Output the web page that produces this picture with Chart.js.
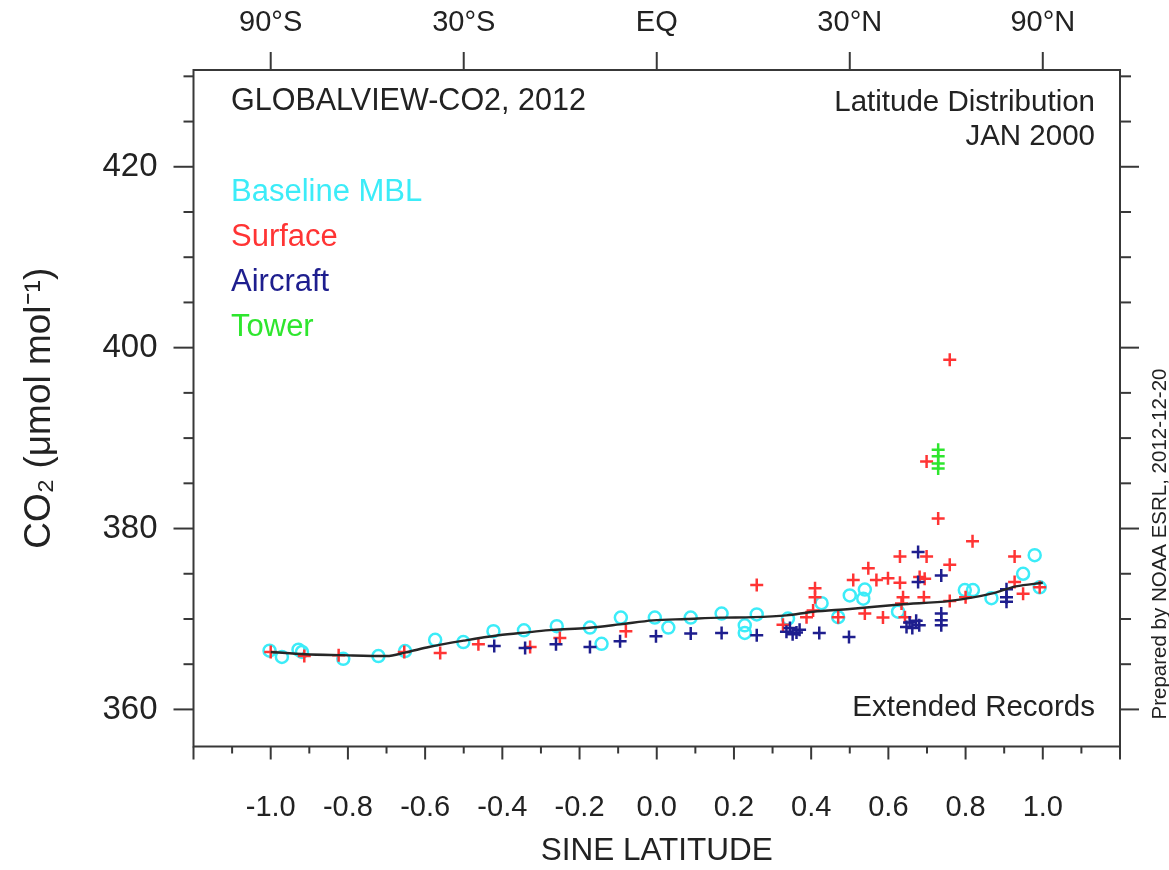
<!DOCTYPE html>
<html>
<head>
<meta charset="utf-8">
<title>GLOBALVIEW-CO2 latitude distribution</title>
<script src="https://cdn.jsdelivr.net/npm/chart.js@4.4.1/dist/chart.umd.min.js"></script>
<style>
  html, body { margin: 0; padding: 0; background: #fff; }
  #wrap { width: 1169px; height: 870px; }
</style>
</head>
<body>
<div id="wrap"><canvas id="co2Chart" width="1169" height="870"></canvas></div>
<script>
// sine of latitude / CO2 (umol/mol)
const mblLat = [-1.003, -0.971, -0.928, -0.919, -0.812, -0.721, -0.652, -0.574, -0.501, -0.423,
                -0.344, -0.259, -0.173, -0.143, -0.093, -0.005, 0.03, 0.088, 0.168, 0.228,
                0.228, 0.259, 0.34, 0.427, 0.47, 0.5, 0.535, 0.539, 0.625, 0.798,
                0.819, 0.867, 0.949, 0.979, 0.992];
const mblCo2 = [366.5, 365.8, 366.6, 366.35, 365.6, 365.9, 366.45, 367.7, 367.45, 368.65,
                368.75, 369.2, 369.05, 367.25, 370.15, 370.15, 369.05, 370.15, 370.6, 369.3,
                368.45, 370.5, 370.05, 371.75, 370.2, 372.6, 372.25, 373.25, 370.8, 373.2,
                373.2, 372.3, 375.0, 377.05, 373.5];

const surfLat = [-1.0, -0.913, -0.824, -0.654, -0.561, -0.462, -0.328, -0.251, -0.08, 0.259,
                 0.327, 0.388, 0.405, 0.41, 0.41, 0.47, 0.509, 0.539, 0.548, 0.569,
                 0.586, 0.599, 0.63, 0.63, 0.634, 0.638, 0.643, 0.681, 0.692, 0.694,
                 0.699, 0.699, 0.729, 0.759, 0.759, 0.759, 0.8, 0.818, 0.927, 0.927,
                 0.949, 0.992];
const surfCo2 = [366.35, 365.9, 366.0, 366.35, 366.25, 367.2, 366.9, 367.9, 368.65, 373.75,
                 369.35, 370.2, 370.95, 373.4, 372.4, 370.2, 374.3, 370.6, 375.6, 374.3,
                 370.15, 374.5, 376.9, 374.0, 371.7, 372.4, 370.2, 374.65, 372.4, 374.45,
                 376.9, 387.4, 381.1, 398.65, 376.0, 372.0, 372.4, 378.6, 376.9, 374.1,
                 372.8, 373.5];

const airLat = [-0.421, -0.341, -0.261, -0.173, -0.095, -0.002, 0.088, 0.168, 0.259, 0.336,
                0.345, 0.352, 0.362, 0.37, 0.421, 0.498, 0.647, 0.655, 0.662, 0.672,
                0.68, 0.677, 0.677, 0.737, 0.737, 0.737, 0.737, 0.906, 0.906, 0.906];
const airCo2 = [367.0, 366.8, 367.2, 366.9, 367.55, 368.1, 368.4, 368.45, 368.2, 368.6,
                369.0, 368.3, 368.5, 368.8, 368.45, 368.0, 369.1, 369.6, 369.0, 369.8,
                369.3, 377.4, 374.1, 374.8, 370.6, 369.85, 369.3, 373.3, 372.4, 371.9];

const towerLat = [0.729, 0.729, 0.729, 0.729];
const towerCo2 = [388.7, 388.0, 387.2, 386.65];

// smoothed MBL reference curve
const curveLat = [-1.0, -0.91, -0.82, -0.7, -0.65, -0.59, -0.5, -0.41, -0.33, -0.27,
                  -0.18, -0.095, -0.01, 0.077, 0.164, 0.25, 0.336, 0.405, 0.5, 0.63,
                  0.76, 0.867, 0.93, 1.0];
const curveCo2 = [366.35, 366.1, 366.0, 365.9, 366.3, 366.9, 367.6, 368.2, 368.55, 368.8,
                  369.0, 369.4, 369.85, 370.0, 370.15, 370.2, 370.4, 370.8, 371.1, 371.6,
                  372.0, 372.8, 373.6, 374.0];

// axis ticks
const sineTicks = [-1.2, -1.0, -0.8, -0.6, -0.4, -0.2, 0.0, 0.2, 0.4, 0.6, 0.8, 1.0, 1.2];
const latValues = [-1, -0.5, 0, 0.5, 1];
const latLabels = ['90°S', '30°S', 'EQ', '30°N', '90°N'];
const co2Ticks = [360, 380, 400, 420];

const legendNames = ['Baseline MBL', 'Surface', 'Aircraft', 'Tower'];
const legendColors = ['#3cecf8', '#ff3434', '#1e1e8e', '#2ee62e'];

const FONT = "'Liberation Sans', Arial, Helvetica, sans-serif";
Chart.defaults.font.family = FONT;
Chart.defaults.color = '#222';

const toPoints = (xs, ys) => xs.map((x, i) => ({ x: x, y: ys[i] }));

// frame, tick marks and the text inside the plot
const framePlugin = {
    id: 'frame',
    afterDraw(chart) {
        const { ctx, chartArea: a, scales } = chart;
        const line = (x1, y1, x2, y2) => {
            ctx.beginPath();
            ctx.moveTo(x1, y1);
            ctx.lineTo(x2, y2);
            ctx.stroke();
        };
        ctx.save();
        ctx.strokeStyle = '#383838';
        ctx.lineWidth = 2;
        ctx.strokeRect(a.left, a.top, a.right - a.left, a.bottom - a.top);

        // bottom: major every 0.2, minor every 0.1
        for (let i = -12; i <= 12; i++) {
            const x = scales.x.getPixelForValue(i / 10);
            line(x, a.bottom, x, a.bottom + (i % 2 === 0 ? 13 : 7));
        }
        // top: latitude ticks
        latValues.forEach(v => {
            const x = scales.xTop.getPixelForValue(v);
            line(x, a.top, x, a.top - 18);
        });
        // left / right: major every 20, minor every 5
        for (let v = 360; v <= 430; v += 5) {
            const y = scales.y.getPixelForValue(v);
            const major = co2Ticks.includes(v);
            line(a.left, y, a.left - (major ? 20 : 10), y);
            line(a.right, y, a.right + (major ? 19 : 11), y);
        }

        ctx.textBaseline = 'middle';
        ctx.font = '30.5px ' + FONT;
        ctx.fillStyle = '#222';
        ctx.textAlign = 'left';
        ctx.fillText('GLOBALVIEW-CO2, 2012', 231, 102);
        ctx.font = '29.5px ' + FONT;
        ctx.textAlign = 'right';
        ctx.fillText('Latitude Distribution', 1095, 103);
        ctx.fillText('JAN 2000', 1095, 137);
        ctx.fillText('Extended Records', 1095, 708);

        ctx.font = '31px ' + FONT;
        ctx.textAlign = 'left';
        legendNames.forEach((name, i) => {
            ctx.fillStyle = legendColors[i];
            ctx.fillText(name, 231, 192 + i * 45);
        });

        ctx.save();
        ctx.translate(1160, 544);
        ctx.rotate(-Math.PI / 2);
        ctx.textAlign = 'center';
        ctx.fillStyle = '#222';
        ctx.font = '20.5px ' + FONT;
        ctx.fillText('Prepared by NOAA ESRL, 2012-12-20', 0, 0);
        ctx.restore();

        ctx.restore();
    }
};

const whiteBg = {
    id: 'whiteBg',
    beforeDraw(chart) {
        const { ctx, width, height } = chart;
        ctx.save();
        ctx.fillStyle = '#fff';
        ctx.fillRect(0, 0, width, height);
        ctx.restore();
    }
};

const markerSet = (label, xs, ys, color, style, order) => ({
    label: label,
    data: toPoints(xs, ys),
    showLine: false,
    pointStyle: style,
    pointRadius: style === 'circle' ? 6 : 6.5,
    pointBorderWidth: 2.5,
    pointBorderColor: color,
    pointBackgroundColor: 'rgba(0,0,0,0)',
    borderColor: color,
    order: order
});

new Chart(document.getElementById('co2Chart'), {
    type: 'scatter',
    data: {
        datasets: [
            {
                label: 'MBL curve',
                data: toPoints(curveLat, curveCo2),
                showLine: true,
                borderColor: '#262626',
                borderWidth: 2.4,
                pointRadius: 0,
                tension: 0.4,
                cubicInterpolationMode: 'monotone',
                order: 0
            },
            markerSet('Tower', towerLat, towerCo2, legendColors[3], 'cross', 1),
            markerSet('Aircraft', airLat, airCo2, legendColors[2], 'cross', 2),
            markerSet('Surface', surfLat, surfCo2, legendColors[1], 'cross', 3),
            markerSet('Baseline MBL', mblLat, mblCo2, legendColors[0], 'circle', 4)
        ]
    },
    options: {
        responsive: false,
        animation: false,
        layout: { padding: 0 },
        plugins: {
            legend: { display: false },
            tooltip: { enabled: false }
        },
        scales: {
            x: {
                type: 'linear',
                position: 'bottom',
                min: -1.2,
                max: 1.2,
                afterBuildTicks: s => { s.ticks = sineTicks.map(v => ({ value: v })); },
                afterFit: s => { s.height = 123.5; },
                grid: { display: false, drawTicks: false },
                border: { display: false },
                ticks: {
                    autoSkip: false,
                    maxRotation: 0,
                    padding: 44,
                    font: { size: 29 },
                    callback: v => Math.abs(v) > 1.001 ? '' : (Math.abs(v) < 1e-9 ? '0.0' : v.toFixed(1))
                },
                title: {
                    display: true,
                    text: 'SINE LATITUDE',
                    font: { size: 31.5 },
                    padding: { top: 0, bottom: 0 }
                }
            },
            xTop: {
                type: 'linear',
                position: 'top',
                min: -1.2,
                max: 1.2,
                afterBuildTicks: s => { s.ticks = latValues.map(v => ({ value: v })); },
                afterFit: s => { s.height = 70; },
                grid: { display: false, drawTicks: false },
                border: { display: false },
                ticks: {
                    autoSkip: false,
                    maxRotation: 0,
                    padding: 30,
                    font: { size: 29 },
                    callback: v => latLabels[latValues.indexOf(v)]
                }
            },
            y: {
                type: 'linear',
                position: 'left',
                min: 355.9,
                max: 430.7,
                afterBuildTicks: s => { s.ticks = co2Ticks.map(v => ({ value: v })); },
                afterFit: s => { s.width = 193.5; },
                grid: { display: false, drawTicks: false },
                border: { display: false },
                ticks: {
                    padding: 36,
                    font: { size: 33 }
                },
                title: {
                    display: true,
                    text: 'CO₂ (μmol mol⁻¹)',
                    font: { size: 37 },
                    padding: { top: 18, bottom: 0 }
                }
            },
            yRight: {
                type: 'linear',
                position: 'right',
                min: 355.9,
                max: 430.7,
                afterFit: s => { s.width = 49; },
                grid: { display: false, drawTicks: false },
                border: { display: false },
                ticks: { display: false }
            }
        }
    },
    plugins: [whiteBg, framePlugin]
});
</script>
</body>
</html>
